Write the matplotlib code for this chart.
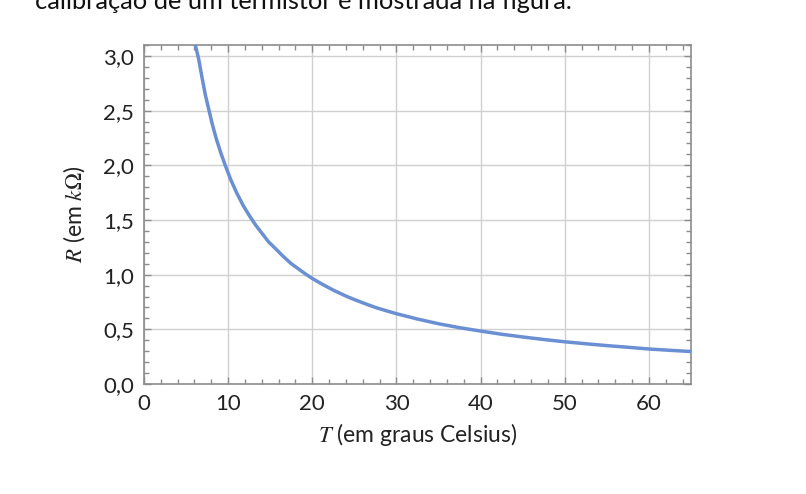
import numpy as np
import matplotlib
matplotlib.use('Agg')
import matplotlib.pyplot as plt
from matplotlib.ticker import MultipleLocator, FuncFormatter

# leituras da curva de calibração (T em °C, R em kOhm)
temp = [6.1, 6.5, 6.9, 7.3, 7.7, 8.1, 8.6, 9.1, 9.65, 10.3, 11.0, 11.8, 12.6,
        13.3, 14.0, 14.8, 15.6, 16.5, 17.5, 18.4, 19.3, 20.0, 21.0, 22.5, 24.0,
        25.0, 26.5, 27.5, 29.0, 30.0, 32.5, 35.0, 37.5, 40.0, 42.5, 45.0, 47.5,
        50.0, 52.5, 55.0, 57.5, 60.0, 62.5, 65.0]
resist = [3.10, 2.97, 2.80, 2.64, 2.51, 2.38, 2.24, 2.12, 2.00, 1.87, 1.75, 1.63, 1.53,
          1.45, 1.38, 1.30, 1.24, 1.17, 1.10, 1.05, 1.00, 0.965, 0.92, 0.858, 0.804,
          0.772, 0.728, 0.70, 0.665, 0.643, 0.594, 0.551, 0.515, 0.484, 0.455, 0.43, 0.407,
          0.386, 0.368, 0.351, 0.336, 0.32, 0.308, 0.297]

plt.rcParams['font.family'] = ['Lato', 'DejaVu Sans']
plt.rcParams['mathtext.fontset'] = 'stix'

fig = plt.figure(figsize=(8.06, 4.94), dpi=100)
ax = fig.add_axes([144/806, 1-384/494, (691-144)/806, (384-45)/494])

ax.plot(temp, resist, color='#6a8fd2', lw=2.5, solid_joinstyle='round', zorder=3)

ax.set_xlim(0, 65)
ax.set_ylim(0, 3.1)
ax.xaxis.set_major_locator(MultipleLocator(10))
ax.xaxis.set_minor_locator(MultipleLocator(2))
ax.yaxis.set_major_locator(MultipleLocator(0.5))
ax.yaxis.set_minor_locator(MultipleLocator(0.1))
ax.yaxis.set_major_formatter(FuncFormatter(lambda v, p: '{0:.1f}'.format(v).replace('.', ',')))

ax.grid(True, which='major', color='#d0d0d0', lw=1)
ax.set_axisbelow(True)
for s in ax.spines.values():
    s.set_color('#8c8c8c')
    s.set_linewidth(1.2)
ax.tick_params(which='both', direction='in', top=True, right=True, color='#8c8c8c',
               labelsize=16, labelcolor='#222222')
ax.tick_params(which='major', length=5, width=1, pad=7)
ax.tick_params(which='minor', length=3.5, width=1)

ax.set_xlabel(r'$T$ (em graus Celsius)', fontsize=16.5, color='#222222', labelpad=5)
ax.set_ylabel(r'$R$ (em $k\Omega$)', fontsize=16.5, color='#222222', labelpad=12)

# texto cortado do enunciado no topo
fig.text(35/806, 1-9/494, 'calibração de um termistor é mostrada na figura.',
         fontsize=18.3, color='#111111', va='baseline', ha='left')

fig.savefig('out.png', dpi=100)
